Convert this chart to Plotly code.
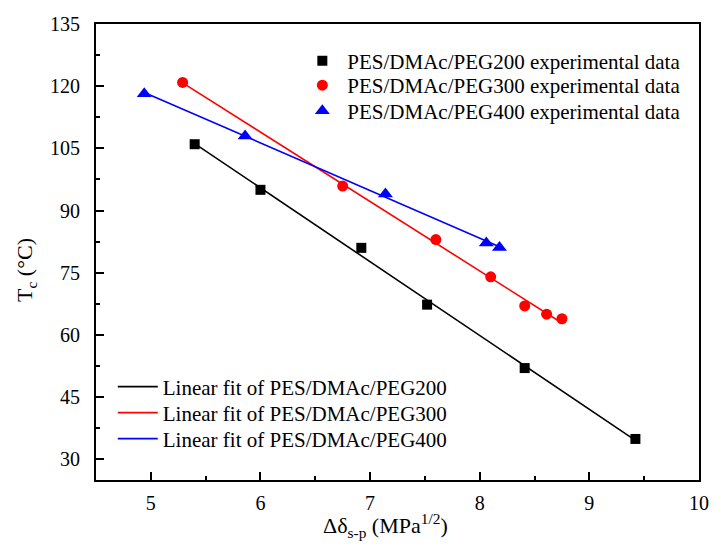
import numpy as np
import plotly.graph_objects as go

# Data
x200 = [5.40, 6.00, 6.92, 7.52, 8.41, 9.42]
y200 = [106.0, 95.0, 81.0, 67.3, 52.0, 34.9]
x300 = [5.29, 6.75, 7.60, 8.10, 8.41, 8.61, 8.75]
y300 = [120.9, 95.9, 83.0, 74.0, 67.0, 65.0, 63.9]
x400 = [4.94, 5.86, 7.14, 8.06, 8.18]
y400 = [118.2, 108.0, 94.0, 82.2, 81.1]

names_data = ["PES/DMAc/PEG200 experimental data",
              "PES/DMAc/PEG300 experimental data",
              "PES/DMAc/PEG400 experimental data"]
names_fit = ["Linear fit of PES/DMAc/PEG200",
             "Linear fit of PES/DMAc/PEG300",
             "Linear fit of PES/DMAc/PEG400"]
colors = ["#000000", "#ff0000", "#0000ff"]
symbols = ["square", "circle", "triangle-up"]
msizes = [10, 11, 13]

FONT = "Liberation Serif"
series = [(x200, y200), (x300, y300), (x400, y400)]

# layout geometry (pixels)
L, R, T, B = 96, 14, 24, 72
W, H = 721, 552
PW, PH = W - L - R, H - T - B

def fx(px):
    return (px - L) / PW

def fy(py):
    return (H - B - py) / PH

fit_legends = ["legend4", "legend5", "legend6"]
data_legends = ["legend", "legend2", "legend3"]

fig = go.Figure()
for i, (xs, ys) in enumerate(series):
    k, b = np.polyfit(xs, ys, 1)
    xf = [min(xs), max(xs)]
    yf = [k * v + b for v in xf]
    fig.add_trace(go.Scatter(x=xf, y=yf, mode="lines", name=names_fit[i],
                             line=dict(color=colors[i], width=1.6),
                             legend=fit_legends[i], showlegend=True))
for i, (xs, ys) in enumerate(series):
    fig.add_trace(go.Scatter(x=xs, y=ys, mode="markers", name=names_data[i],
                             marker=dict(color=colors[i], symbol=symbols[i], size=msizes[i],
                                         line=dict(width=0)),
                             legend=data_legends[i], showlegend=True))

axis_common = dict(showline=True, linecolor="black", linewidth=2, mirror=True,
                   ticks="inside", ticklen=8, tickwidth=1.5, tickcolor="black",
                   showgrid=False, zeroline=False,
                   tickfont=dict(family=FONT, size=20, color="black"))

legend_font = dict(family=FONT, size=21, color="black")
data_rows = [61, 85.5, 111]
fit_rows = [387, 413, 439]
legends = {}
for i in range(3):
    legends[data_legends[i]] = dict(x=fx(300), y=fy(data_rows[i]), xanchor="left", yanchor="middle",
                                    bgcolor="rgba(0,0,0,0)", font=legend_font, itemwidth=40)
    legends[fit_legends[i]] = dict(x=fx(113), y=fy(fit_rows[i]), xanchor="left", yanchor="middle",
                                   bgcolor="rgba(0,0,0,0)", font=legend_font, itemwidth=40)

fig.update_layout(
    width=W, height=H,
    margin=dict(l=L, r=R, t=T, b=B),
    showlegend=True,
    plot_bgcolor="white", paper_bgcolor="white",
    font=dict(family=FONT, color="black"),
    xaxis=dict(range=[4.5, 10], dtick=1, tick0=5,
               minor=dict(dtick=0.5, ticks="inside", ticklen=4, tickwidth=1.5, tickcolor="black"),
               ticklabelstandoff=4,
               **axis_common),
    yaxis=dict(range=[25, 135], dtick=15, tick0=30,
               minor=dict(dtick=7.5, ticks="inside", ticklen=4, tickwidth=1.5, tickcolor="black"),
               ticklabelstandoff=10,
               **axis_common),
    annotations=[
        dict(text="Δδ<sub>s-p</sub> (MPa<sup>1/2</sup>)", xref="paper", yref="paper",
             x=fx(389), y=fy(525), xanchor="center", yanchor="middle", showarrow=False,
             font=dict(family=FONT, size=22, color="black")),
        dict(text="T<sub>c</sub> (°C)", xref="paper", yref="paper",
             x=fx(25), y=fy(270), xanchor="center", yanchor="middle", showarrow=False,
             textangle=-90, font=dict(family=FONT, size=22, color="black")),
    ],
    **legends,
)

fig.write_html("out.html")
